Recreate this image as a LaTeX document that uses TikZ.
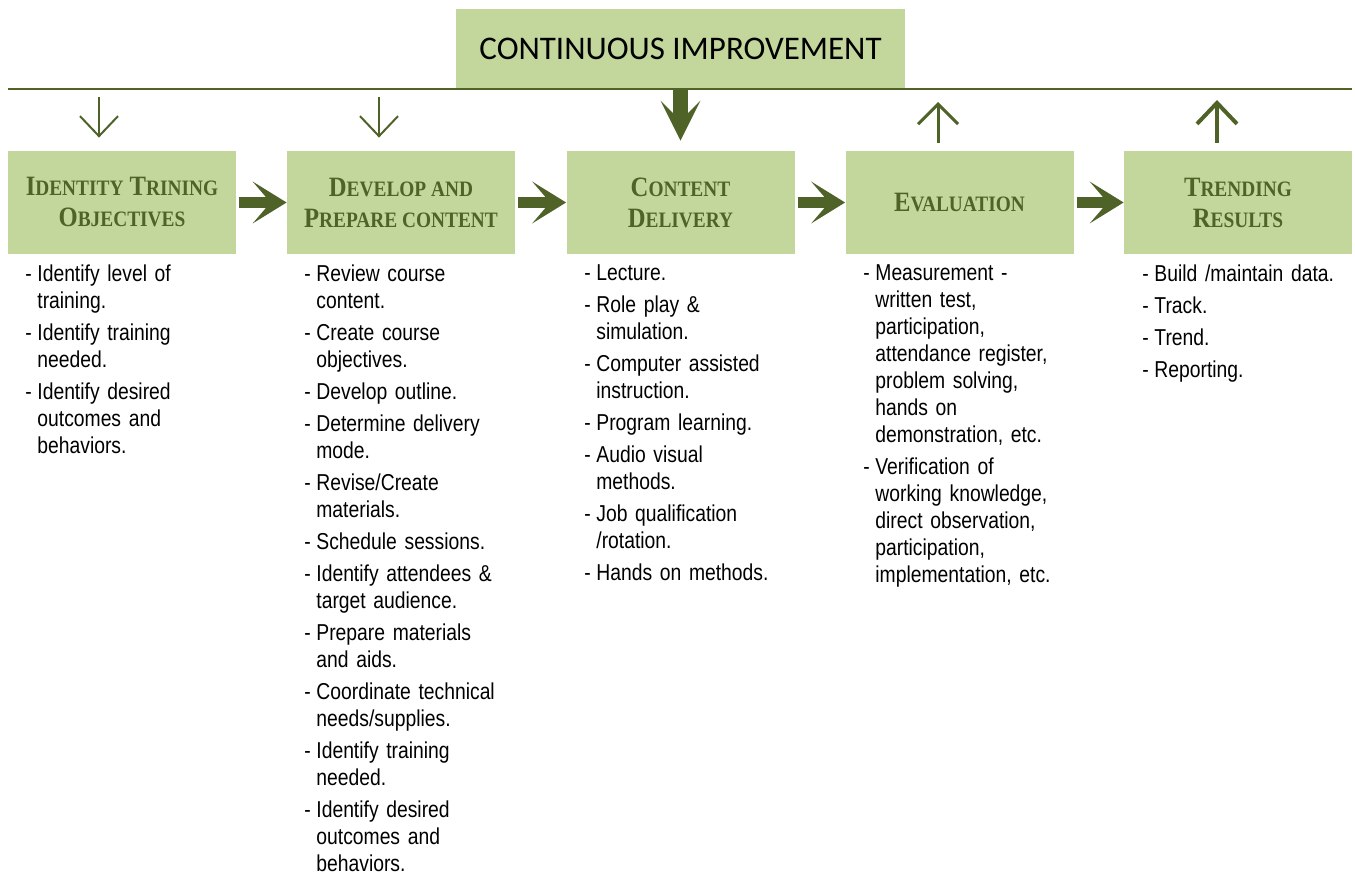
\documentclass[tikz,border=0pt]{standalone}
\usepackage{fontspec}
\newfontfamily\bodyfont[FakeStretch=0.84]{Liberation Sans}
\newfontfamily\headfont[FakeStretch=0.88]{Liberation Serif}
\newfontfamily\titlefont{Carlito}
\usetikzlibrary{arrows.meta,positioning}
\definecolor{boxgreen}{HTML}{C3D69B}
\definecolor{darkolive}{HTML}{4F6228}
% fake small caps: big initial, small rest
\newcommand\sck[2]{{\fontsize{14}{15.5}\selectfont #1}{\fontsize{11}{15.5}\selectfont #2}}
% one list entry with a hanging dash
\newcommand\itm[1]{{\hangindent=6pt\hangafter=1\noindent\makebox[6pt][l]{-}#1\par}}

\begin{document}
\begin{tikzpicture}[x=0.5pt,y=-0.5pt,
    stage/.style={rectangle,fill=boxgreen,minimum width=114pt,minimum height=51.5pt,
      inner sep=0pt,align=center,text=darkolive,font=\headfont\bfseries\fontsize{14}{15.5}\selectfont},
    notes/.style={anchor=north west,inner sep=0pt,text width=110pt,align=left,
      font=\bodyfont\fontsize{11.5}{13.5}\selectfont},
    flow/.style={darkolive,line width=5.5pt,shorten <=1.5pt,
      -{Stealth[length=17pt,width=21pt,inset=9pt,line width=0pt]}},
    thin/.style={darkolive,line width=1pt,shorten <=3.75pt,shorten >=6.5pt,
      -{Straight Barb[length=10pt,width=19pt]}}]
    \useasboundingbox (0,0) rectangle (1355,877);

    \node[rectangle,fill=boxgreen,minimum width=224.5pt,minimum height=40pt,inner sep=0pt,
      font=\titlefont\fontsize{16.5}{18}\selectfont] (ci) at (680.5,49) {CONTINUOUS IMPROVEMENT};
    \coordinate (rl) at (8,89.5);
    \coordinate (rr) at (1352,89.5);
    \draw[darkolive,line width=1pt] (rl) -- (rr);

    \begin{scope}[every node/.style={stage}]
        \node (obj) at (122,202.5) {\sck{I}{DENTITY} \sck{T}{RINING}\\\sck{O}{BJECTIVES}};
        \node (dev) at (401,202.5) {\sck{D}{EVELOP AND}\\\sck{P}{REPARE CONTENT}};
        \node (del) at (680.5,202.5) {\sck{C}{ONTENT}\\\sck{D}{ELIVERY}};
        \node (eva) at (959.5,202.5) {\sck{E}{VALUATION}};
        \node (tre) at (1238,202.5) {\sck{T}{RENDING}\\\sck{R}{ESULTS}};
    \end{scope}

    \begin{scope}
        \draw[flow] (obj) -- (dev);
        \draw[flow] (dev) -- (del);
        \draw[flow] (del) -- (eva);
        \draw[flow] (eva) -- (tre);

        \draw[thin] ([xshift=-11.5pt]obj.north |- rl) -- ([xshift=-11.5pt]obj.north);
        \draw[thin] ([xshift=-11pt]dev.north |- rl) -- ([xshift=-11pt]dev.north);
        \draw[darkolive,line width=7.5pt,shorten >=5pt,
          -{Stealth[length=20pt,width=20pt,inset=10pt,line width=0pt]}] (del.north |- rl) -- (del.north);
        \draw[darkolive,line width=1.5pt,shorten <=4pt,shorten >=6.25pt,
          -{Straight Barb[length=10pt,width=20pt]}] ([xshift=-10.75pt]eva.north) -- ([xshift=-10.75pt]eva.north |- rl);
        \draw[darkolive,line width=2pt,shorten <=4pt,shorten >=5.25pt,
          -{Straight Barb[length=10.5pt,width=20pt]}] ([xshift=-10.5pt]tre.north) -- ([xshift=-10.5pt]tre.north |- rl);
    \end{scope}

    \node[notes] (objlist) at (25,264) {\setlength\parskip{2.5pt}%
        \itm{Identify level of\newline training.}
        \itm{Identify training\newline needed.}
        \itm{Identify desired\newline outcomes and\newline behaviors.}};
    \node[notes] (devlist) at (304,264) {\setlength\parskip{2.5pt}%
        \itm{Review course\newline content.}
        \itm{Create course\newline objectives.}
        \itm{Develop outline.}
        \itm{Determine delivery\newline mode.}
        \itm{Revise/Create\newline materials.}
        \itm{Schedule sessions.}
        \itm{Identify attendees \&\newline target audience.}
        \itm{Prepare materials\newline and aids.}
        \itm{Coordinate technical\newline needs/supplies.}
        \itm{Identify training\newline needed.}
        \itm{Identify desired\newline outcomes and\newline behaviors.}};
    \node[notes] (dellist) at (584,264) {\setlength\parskip{2.5pt}%
        \itm{Lecture.}
        \itm{Role play \&\newline simulation.}
        \itm{Computer assisted\newline instruction.}
        \itm{Program learning.}
        \itm{Audio visual\newline methods.}
        \itm{Job qualification\newline /rotation.}
        \itm{Hands on methods.}};
    \node[notes] (evalist) at (863,264) {\setlength\parskip{2.5pt}%
        \itm{Measurement -\newline written test,\newline participation,\newline attendance register,\newline problem solving,\newline hands on\newline demonstration, etc.}
        \itm{Verification of\newline working knowledge,\newline direct observation,\newline participation,\newline implementation, etc.}};
    \node[notes] (trelist) at (1142,264) {\setlength\parskip{2.5pt}%
        \itm{Build /maintain data.}
        \itm{Track.}
        \itm{Trend.}
        \itm{Reporting.}};
\end{tikzpicture}
\end{document}
